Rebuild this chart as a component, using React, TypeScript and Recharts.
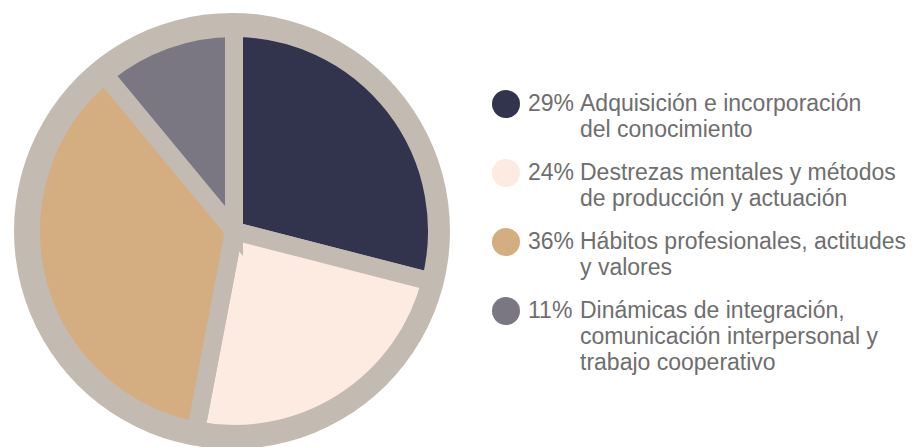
import { Pie, PieChart, Cell, Legend } from 'recharts';

const categories = [
  ['Adquisición e incorporación', 'del conocimiento'],
  ['Destrezas mentales y métodos', 'de producción y actuación'],
  ['Hábitos profesionales, actitudes', 'y valores'],
  ['Dinámicas de integración,', 'comunicación interpersonal y', 'trabajo cooperativo'],
];
const shares = [29, 24, 36, 11];
const colors = ['#32344e', '#fdebe1', '#d4ad80', '#7a7783'];
const ring = '#c3bab2';

const data = categories.map((lines, i) => ({ name: lines.join(' '), lines, value: shares[i] }));

const LegendBox = () => (
  <div style={{ fontFamily: 'Liberation Sans, Arial, sans-serif', fontSize: 23, color: '#6e6e6e' }}>
    {data.map((d, i) => (
      <div key={d.name} style={{ display: 'flex', alignItems: 'flex-start', marginBottom: 17 }}>
        <span
          style={{
            width: 28,
            height: 28,
            borderRadius: '50%',
            background: colors[i],
            marginRight: 8,
            flex: 'none',
          }}
        />
        <span style={{ width: 52, flex: 'none', lineHeight: '26px' }}>{d.value}%</span>
        <div style={{ lineHeight: '26px', whiteSpace: 'nowrap' }}>
          {d.lines.map((l) => (
            <div key={l}>{l}</div>
          ))}
        </div>
      </div>
    ))}
  </div>
);

export default function App() {
  return (
    <div style={{ position: 'absolute', left: 0, top: 0, width: 912, height: 447, background: '#fff' }}>
      <PieChart width={912} height={447} margin={{ top: 0, right: 0, bottom: 0, left: 0 }}>
        <Pie
          data={[{ value: 1 }]}
          dataKey="value"
          cx={232}
          cy={231}
          outerRadius={218}
          fill={ring}
          stroke="none"
          isAnimationActive={false}
        />
        <Pie
          data={data}
          dataKey="value"
          cx={234}
          cy={231}
          outerRadius={203}
          startAngle={90}
          endAngle={-270}
          stroke={ring}
          strokeWidth={18}
          isAnimationActive={false}
        >
          {data.map((d, i) => (
            <Cell key={d.name} fill={colors[i]} />
          ))}
        </Pie>
        <Legend
          layout="vertical"
          align="right"
          verticalAlign="top"
          wrapperStyle={{ left: 492, top: 90, width: 420 }}
          content={<LegendBox />}
        />
      </PieChart>
    </div>
  );
}
